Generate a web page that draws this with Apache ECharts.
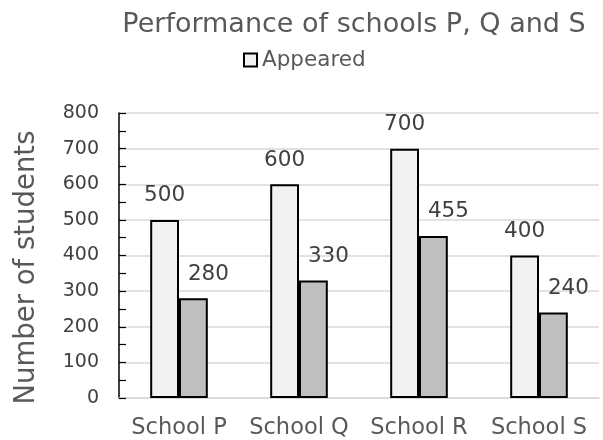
<!DOCTYPE html>
<html>
<head>
<meta charset="utf-8">
<script src="https://cdn.jsdelivr.net/npm/echarts@6/dist/echarts.min.js"></script>
<style>html,body{margin:0;padding:0;background:#fff;}#c{width:603px;height:440px;}</style>
</head>
<body>
<div id="c"></div>
<script>
const categories = ['School P', 'School Q', 'School R', 'School S'];
const appeared = [500, 600, 700, 400];
const passed = [280, 330, 455, 240];
const yTicks = { min: 0, max: 800, interval: 100 };

const chart = echarts.init(document.getElementById('c'));
const FONT = 'DejaVu Sans';
chart.setOption({
  animation: false,
  textStyle: { fontFamily: FONT },
  title: {
    text: 'Performance of schools P, Q and S',
    left: 349, textAlign: 'center', top: 6,
    textStyle: { fontFamily: FONT, fontSize: 27, fontWeight: 'normal', color: '#595959' }
  },
  legend: {
    data: ['Appeared'],
    left: 238, top: 44,
    icon: 'rect',
    itemWidth: 13, itemHeight: 13, itemGap: 4,
    textStyle: { fontFamily: FONT, fontSize: 21.5, color: '#595959', padding: [0, 0, 0, 0] }
  },
  grid: { left: 119, right: 4, top: 113, bottom: 42, containLabel: false },
  xAxis: {
    type: 'category', data: categories,
    axisLine: { show: true, lineStyle: { color: '#d9d9d9', width: 1.5 } },
    axisTick: { show: false },
    axisLabel: { interval: 0, fontFamily: FONT, fontSize: 22.5, color: '#595959', margin: 19 }
  },
  yAxis: {
    type: 'value', min: yTicks.min, max: yTicks.max, interval: yTicks.interval,
    name: 'Number of students', nameLocation: 'middle', nameGap: 78,
    nameTextStyle: { fontFamily: FONT, fontSize: 27.5, color: '#595959', padding: [0, 24, 0, 0] },
    axisLine: { show: true, lineStyle: { color: '#000', width: 1.5 } },
    axisTick: { show: true, inside: true, length: 7, lineStyle: { color: '#000', width: 1.2 } },
    minorTick: { show: true, splitNumber: 2, length: 7, lineStyle: { color: '#000', width: 1.2 } },
    axisLabel: { fontFamily: FONT, fontSize: 19, color: '#404040', margin: 20 },
    splitLine: { show: true, lineStyle: { color: '#d9d9d9', width: 1.5 } }
  },
  series: [
    {
      name: 'Appeared', type: 'bar', data: appeared,
      barWidth: '24%', barGap: '0%',
      itemStyle: { color: '#f2f2f2', borderColor: '#000', borderWidth: 2 },
      label: { show: true, position: 'top', distance: 13, fontFamily: FONT, fontSize: 21.5, color: '#404040' }
    },
    {
      name: 'Passed', type: 'bar', data: passed,
      barWidth: '24%', barGap: '0%',
      itemStyle: { color: '#bfbfbf', borderColor: '#000', borderWidth: 2 },
      label: { show: true, position: 'top', distance: 13, offset: [15, 0], fontFamily: FONT, fontSize: 21.5, color: '#404040' }
    }
  ]
});
</script>
</body>
</html>
